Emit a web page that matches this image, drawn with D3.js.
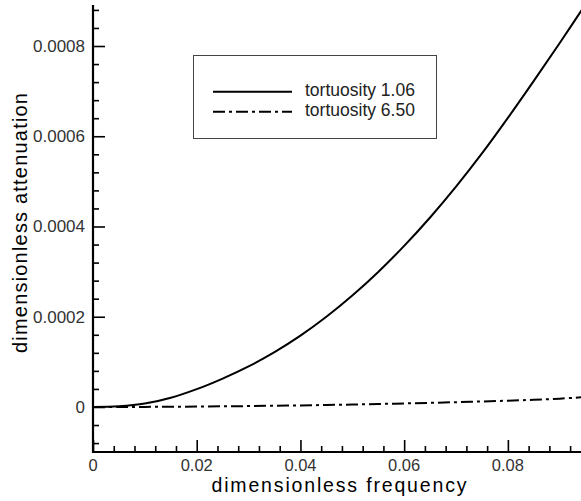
<!DOCTYPE html>
<html>
<head>
<meta charset="utf-8">
<script src="https://cdn.jsdelivr.net/npm/d3@7/dist/d3.min.js"></script>
<style>
  html, body { margin: 0; padding: 0; background: #fff; }
  svg { display: block; }
  text { font-family: "Liberation Sans", Arial, sans-serif; }
</style>
</head>
<body>
<svg id="chart" width="581" height="501"></svg>
<script>
// ---- data ----
const freq = [0, 0.005, 0.01, 0.015, 0.02, 0.025, 0.03, 0.035, 0.04, 0.045, 0.05,
              0.055, 0.06, 0.065, 0.07, 0.075, 0.08, 0.085, 0.09, 0.095];
const atten106 = [0, 1.5e-6, 7.5e-6, 2.05e-5, 3.95e-5, 6.3e-5, 9.0e-5, 1.215e-4, 1.58e-4, 1.998e-4, 2.469e-4,
                  2.993e-4, 3.57e-4, 4.2e-4, 4.883e-4, 5.619e-4, 6.408e-4, 7.228e-4, 8.068e-4, 8.928e-4];
const atten650 = [0, 0.05e-6, 0.2e-6, 0.5e-6, 0.9e-6, 1.4e-6, 2.0e-6, 2.7e-6, 3.5e-6, 4.4e-6, 5.4e-6,
                  6.6e-6, 7.8e-6, 9.2e-6, 1.06e-5, 1.22e-5, 1.4e-5, 1.6e-5, 1.85e-5, 2.2e-5];
const seriesNames = ["tortuosity 1.06", "tortuosity 6.50"];
const xTicks = [0, 0.02, 0.04, 0.06, 0.08];
const xTickLabels = ["0", "0.02", "0.04", "0.06", "0.08"];
const yTicks = [0, 0.0002, 0.0004, 0.0006, 0.0008];
const yTickLabels = ["0", "0.0002", "0.0004", "0.0006", "0.0008"];
const xTitle = "dimensionless frequency";
const yTitle = "dimensionless attenuation";

// ---- layout ----
const svg = d3.select("#chart");
const x = d3.scaleLinear().domain([0, 0.0941]).range([93, 581]);
const y = d3.scaleLinear().domain([-0.0001, 0.00089]).range([452.1, 5.4]);

const xMinor = d3.range(0, 0.0941, 0.004).filter(v => xTicks.every(t => Math.abs(t - v) > 1e-9));
const yMinor = d3.range(-0.00008, 0.00089, 0.00004).filter(v => yTicks.every(t => Math.abs(t - v) > 1e-10));

svg.append("clipPath").attr("id", "clip")
  .append("rect").attr("x", 93).attr("y", 0).attr("width", 488).attr("height", 452);

// curves
const line = d3.line().x(d => x(d[0])).y(d => y(d[1])).curve(d3.curveCatmullRom.alpha(0.5));
const g = svg.append("g").attr("clip-path", "url(#clip)");
g.append("path").datum(d3.zip(freq, atten106)).attr("d", line)
  .attr("fill", "none").attr("stroke", "#000").attr("stroke-width", 2);
g.append("path").datum(d3.zip(freq, atten650)).attr("d", line)
  .attr("fill", "none").attr("stroke", "#000").attr("stroke-width", 2)
  .attr("stroke-dasharray", "12,4,3,4");

// axes
const xAxisMajor = d3.axisTop(x).tickValues(xTicks).tickSize(12).tickFormat("");
const xAxisMinor = d3.axisTop(x).tickValues(xMinor).tickSize(6).tickFormat("");
const yAxisMajor = d3.axisRight(y).tickValues(yTicks).tickSize(12).tickFormat("");
const yAxisMinor = d3.axisRight(y).tickValues(yMinor).tickSize(6).tickFormat("");

function styleAxis(sel) {
  sel.select(".domain").remove();
  sel.selectAll(".tick line").attr("stroke", "#000").attr("stroke-width", 1.6);
}
svg.append("g").attr("transform", "translate(0,452)").call(xAxisMajor).call(styleAxis);
svg.append("g").attr("transform", "translate(0,452)").call(xAxisMinor).call(styleAxis);
svg.append("g").attr("transform", "translate(93,0)").call(yAxisMajor).call(styleAxis);
svg.append("g").attr("transform", "translate(93,0)").call(yAxisMinor).call(styleAxis);

svg.append("line").attr("x1", 92).attr("x2", 581).attr("y1", 452).attr("y2", 452)
  .attr("stroke", "#000").attr("stroke-width", 2.2);
svg.append("line").attr("x1", 93).attr("x2", 93).attr("y1", 5).attr("y2", 453)
  .attr("stroke", "#000").attr("stroke-width", 2.2);

// tick labels
svg.append("g").selectAll("text").data(xTicks).join("text")
  .attr("x", d => x(d)).attr("y", 471).attr("text-anchor", "middle")
  .attr("font-size", 16.5).attr("fill", "#333")
  .text((d, i) => xTickLabels[i]);
svg.append("g").selectAll("text").data(yTicks).join("text")
  .attr("x", 85).attr("y", d => y(d) + 6).attr("text-anchor", "end")
  .attr("font-size", 17).attr("fill", "#333")
  .text((d, i) => yTickLabels[i]);

// titles
svg.append("text").attr("x", 339).attr("y", 492).attr("text-anchor", "middle")
  .attr("font-size", 19.5).attr("fill", "#000")
  .attr("textLength", 255).attr("lengthAdjust", "spacing").text(xTitle);
svg.append("text").attr("transform", "translate(27,223) rotate(-90)")
  .attr("text-anchor", "middle").attr("font-size", 20).attr("fill", "#000")
  .attr("textLength", 260).attr("lengthAdjust", "spacing").text(yTitle);

// legend
svg.append("rect").attr("x", 193.5).attr("y", 55.5).attr("width", 243).attr("height", 83)
  .attr("fill", "#fff").attr("stroke", "#444").attr("stroke-width", 1);
const dashes = [null, "12,4,3,4"];
seriesNames.forEach((name, i) => {
  const ly = 91.7 + i * 20;
  svg.append("line").attr("x1", 213).attr("x2", 292).attr("y1", ly).attr("y2", ly)
    .attr("stroke", "#000").attr("stroke-width", 2)
    .attr("stroke-dasharray", dashes[i]);
  svg.append("text").attr("x", 305).attr("y", ly + 4.5)
    .attr("font-size", 17.5).attr("fill", "#222").text(name);
});
</script>
</body>
</html>
